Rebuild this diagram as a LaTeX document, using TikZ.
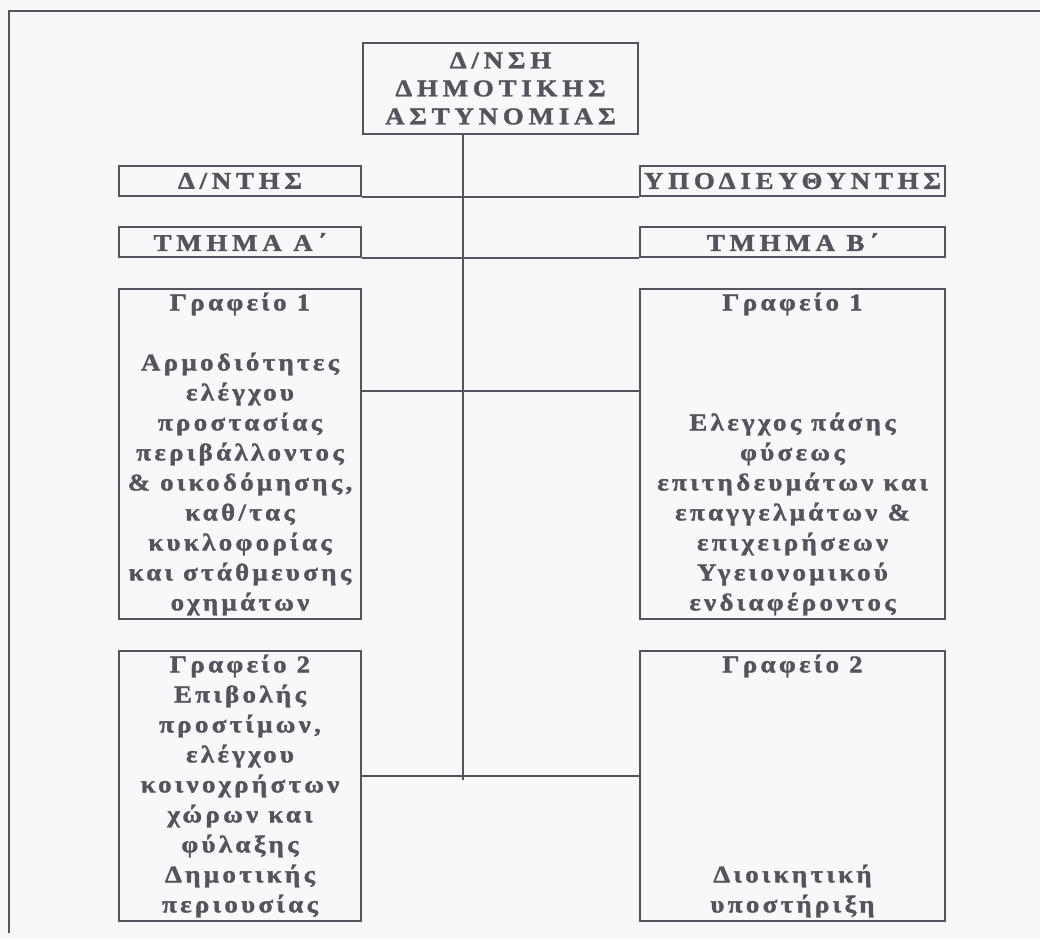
\documentclass[tikz,border=0pt]{standalone}
\usepackage{fontspec}
\setmainfont{Liberation Serif}[UprightFont=* Bold, FakeStretch=1.12, FakeBold=1.5, LetterSpace=14]
\usetikzlibrary{positioning,calc}
\definecolor{inkgray}{RGB}{84,84,92}
\definecolor{paper}{RGB}{246,248,250}

\begin{document}
\begin{tikzpicture}[
  font=\fontsize{12}{15}\selectfont,
  text=inkgray,
  box/.style={draw=inkgray, line width=1pt, align=center, inner sep=1pt},
  caps/.style={font=\fontsize{12}{14}\selectfont\addfontfeature{LetterSpace=20}},
  head/.style={box, caps, minimum width=121pt, minimum height=15pt},
  headr/.style={box, caps, minimum width=152.5pt, minimum height=15pt},
  office/.style={box, minimum width=121pt},
  officer/.style={box, minimum width=152.5pt},
  every edge/.style={draw=inkgray, line width=1pt}
]
\fill[paper] (0,0) rectangle (520pt,-469.5pt);
\useasboundingbox (0,0) rectangle (520pt,-469.5pt);
\draw[inkgray, line width=1pt] (4.5pt,-466.5pt) -- (4.5pt,-5.5pt) -- (520pt,-5.5pt);
\node[box, caps, minimum width=137.5pt, minimum height=45.5pt, anchor=north west] (dnsi) at (181pt,-21pt) {Δ/ΝΣΗ\\ΔΗΜΟΤΙΚΗΣ\\ΑΣΤΥΝΟΜΙΑΣ};
\node[head, below left=15pt and 0pt of dnsi] (dnt) {Δ/ΝΤΗΣ};
\node[headr, below right=15pt and 0pt of dnsi] (ypd) {ΥΠΟΔΙΕΥΘΥΝΤΗΣ};
\node[head, below=14.5pt of dnt] (tma) {ΤΜΗΜΑ Α΄};
\node[headr, below=14.5pt of ypd] (tmb) {ΤΜΗΜΑ Β΄};
\node[office, minimum height=165pt, below=15pt of tma] (g1a) {Γραφείο 1\\[15pt]Αρμοδιότητες\\ελέγχου\\προστασίας\\περιβάλλοντος\\\& οικοδόμησης,\\καθ/τας\\κυκλοφορίας\\και στάθμευσης\\οχημάτων};
\node[officer, minimum height=165pt, below=15pt of tmb] (g1b) {Γραφείο 1\\[45pt]Ελεγχος πάσης\\φύσεως\\επιτηδευμάτων και\\επαγγελμάτων \&\\επιχειρήσεων\\Υγειονομικού\\ενδιαφέροντος};
\node[office, minimum height=135pt, below=15pt of g1a] (g2a) {Γραφείο 2\\Επιβολής\\προστίμων,\\ελέγχου\\κοινοχρήστων\\χώρων και\\φύλαξης\\Δημοτικής\\περιουσίας};
\node[officer, minimum height=135pt, below=15pt of g1b] (g2b) {Γραφείο 2\\[90pt]Διοικητική\\υποστήριξη};
\coordinate (trunk) at ([xshift=50.5pt]dnsi.south west);
\coordinate (ja) at ([yshift=-51.5pt]g1a.north east);
\coordinate (jb) at ([yshift=-51.5pt]g1b.north west);
\coordinate (ka) at ([yshift=-63pt]g2a.north east);
\coordinate (kb) at ([yshift=-63pt]g2b.north west);
\path (trunk) edge ([yshift=-2pt]trunk |- ka);
\path (dnt.south east) edge (ypd.south west);
\path (tma.south east) edge (tmb.south west);
\path (ja) edge (jb);
\path (ka) edge (kb);
\end{tikzpicture}
\end{document}
